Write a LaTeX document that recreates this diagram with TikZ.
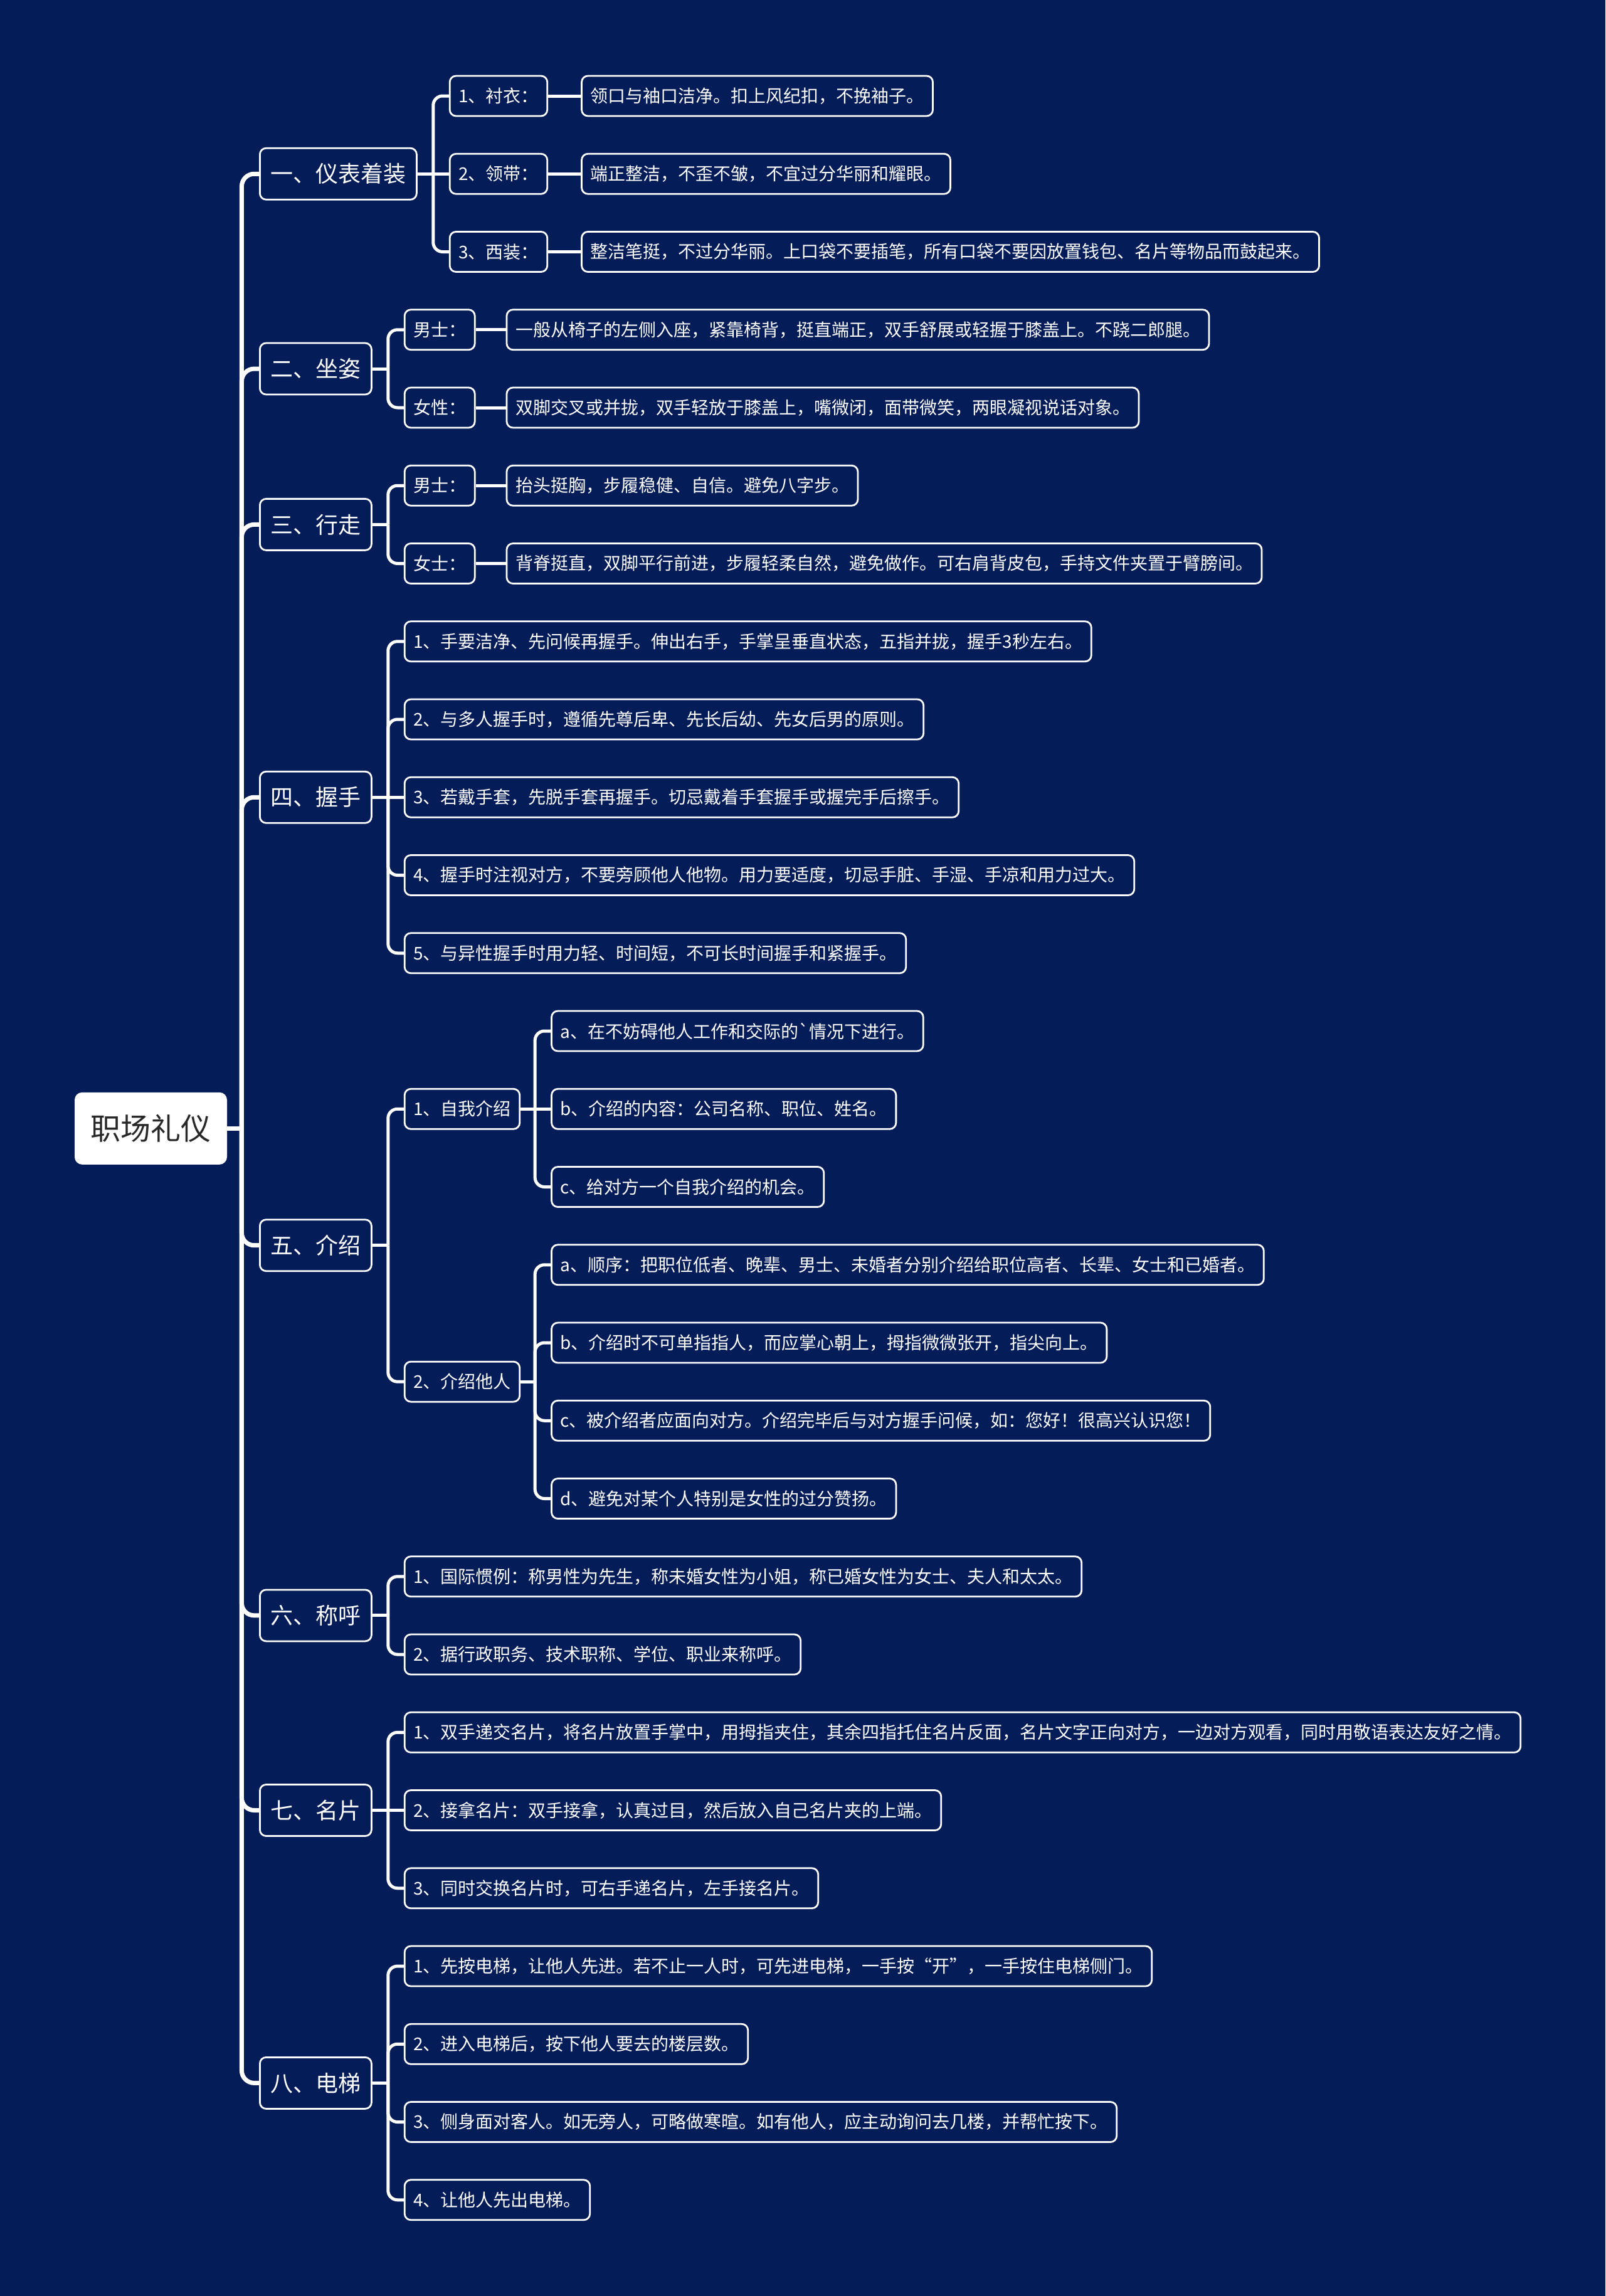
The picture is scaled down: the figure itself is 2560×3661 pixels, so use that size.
\documentclass[tikz,border=0pt]{standalone}
\usepackage{fontspec}
\setmainfont{Noto Sans CJK SC}[Ligatures=TeXOff]
\definecolor{bg}{RGB}{4,28,88}
\definecolor{roottext}{RGB}{40,40,40}
\begin{document}
\begin{tikzpicture}[x=0.5pt,y=-0.5pt,
 box/.style={draw=white, line width=1.4pt, fill=bg, text=white, rounded corners=5pt, inner ysep=0pt, anchor=west},
 lone/.style={box, font=\fontsize{18pt}{20pt}\selectfont, minimum height=41pt, inner xsep=8.5pt},
 ltwo/.style={box, font=\fontsize{14pt}{16pt}\selectfont, minimum height=32pt, inner xsep=7pt},
 rootbox/.style={fill=white, text=roottext, rounded corners=6pt, font=\fontsize{24pt}{26pt}\selectfont, minimum width=121.5pt, minimum height=57.5pt, inner sep=0pt},
 czero/.style={draw=white, line width=3.5pt, rounded corners=10pt},
 cone/.style={draw=white, line width=2.5pt, rounded corners=7.5pt},
]
\fill[bg] (0,0) rectangle (2560,3661);
% row coordinates
\foreach \k in {0,...,27}{\coordinate (r\k) at (0,{153+124.25*\k});}
\coordinate (rs5b) at (0,2203.125);

% root
\node[rootbox] (root) at (240.5,1799.3) {职场礼仪};

% level 1
\node[lone] (s1) at (413,277.25) {一、仪表着装};
\node[lone] (s2) at (413,588) {二、坐姿};
\node[lone] (s3) at (413,836.375) {三、行走};
\node[lone] (s4) at (413,1271.25) {四、握手};
\node[lone] (s5) at (413,1985.69) {五、介绍};
\node[lone] (s6) at (413,2575.875) {六、称呼};
\node[lone] (s7) at (413,2886.5) {七、名片};
\node[lone] (s8) at (413,3321.375) {八、电梯};

% section 1
\node[ltwo, xshift=25pt] (a1) at (s1.east |- r0) {1、衬衣：};
\node[ltwo, xshift=25pt] (a2) at (s1.east |- r1) {2、领带：};
\node[ltwo, xshift=25pt] (a3) at (s1.east |- r2) {3、西装：};
\node[ltwo, xshift=26pt] (a1x) at (a1.east) {领口与袖口洁净。扣上风纪扣，不挽袖子。};
\node[ltwo, xshift=26pt] (a2x) at (a2.east) {端正整洁，不歪不皱，不宜过分华丽和耀眼。};
\node[ltwo, xshift=26pt] (a3x) at (a3.east) {整洁笔挺，不过分华丽。上口袋不要插笔，所有口袋不要因放置钱包、名片等物品而鼓起来。};

% section 2
\node[ltwo, xshift=25pt] (b1) at (s2.east |- r3) {男士：};
\node[ltwo, xshift=25pt] (b2) at (s2.east |- r4) {女性：};
\node[ltwo, xshift=24pt] (b1x) at (b1.east) {一般从椅子的左侧入座，紧靠椅背，挺直端正，双手舒展或轻握于膝盖上。不跷二郎腿。};
\node[ltwo, xshift=24pt] (b2x) at (b2.east) {双脚交叉或并拢，双手轻放于膝盖上，嘴微闭，面带微笑，两眼凝视说话对象。};

% section 3
\node[ltwo, xshift=25pt] (c1) at (s3.east |- r5) {男士：};
\node[ltwo, xshift=25pt] (c2) at (s3.east |- r6) {女士：};
\node[ltwo, xshift=24pt] (c1x) at (c1.east) {抬头挺胸，步履稳健、自信。避免八字步。};
\node[ltwo, xshift=24pt] (c2x) at (c2.east) {背脊挺直，双脚平行前进，步履轻柔自然，避免做作。可右肩背皮包，手持文件夹置于臂膀间。};

% section 4
\node[ltwo, xshift=25pt] (d1) at (s4.east |- r7) {1、手要洁净、先问候再握手。伸出右手，手掌呈垂直状态，五指并拢，握手3秒左右。};
\node[ltwo, xshift=25pt] (d2) at (s4.east |- r8) {2、与多人握手时，遵循先尊后卑、先长后幼、先女后男的原则。};
\node[ltwo, xshift=25pt] (d3) at (s4.east |- r9) {3、若戴手套，先脱手套再握手。切忌戴着手套握手或握完手后擦手。};
\node[ltwo, xshift=25pt] (d4) at (s4.east |- r10) {4、握手时注视对方，不要旁顾他人他物。用力要适度，切忌手脏、手湿、手凉和用力过大。};
\node[ltwo, xshift=25pt] (d5) at (s4.east |- r11) {5、与异性握手时用力轻、时间短，不可长时间握手和紧握手。};

% section 5
\node[ltwo, xshift=25pt] (e1) at (s5.east |- r13) {1、自我介绍};
\node[ltwo, xshift=25pt] (e2) at (s5.east |- rs5b) {2、介绍他人};
\node[ltwo, xshift=24pt] (e1a) at (e1.east |- r12) {a、在不妨碍他人工作和交际的`情况下进行。};
\node[ltwo, xshift=24pt] (e1b) at (e1.east |- r13) {b、介绍的内容：公司名称、职位、姓名。};
\node[ltwo, xshift=24pt] (e1c) at (e1.east |- r14) {c、给对方一个自我介绍的机会。};
\node[ltwo, xshift=24pt] (e2a) at (e2.east |- r15) {a、顺序：把职位低者、晚辈、男士、未婚者分别介绍给职位高者、长辈、女士和已婚者。};
\node[ltwo, xshift=24pt] (e2b) at (e2.east |- r16) {b、介绍时不可单指指人，而应掌心朝上，拇指微微张开，指尖向上。};
\node[ltwo, xshift=24pt] (e2c) at (e2.east |- r17) {c、被介绍者应面向对方。介绍完毕后与对方握手问候，如：您好！很高兴认识您！};
\node[ltwo, xshift=24pt] (e2d) at (e2.east |- r18) {d、避免对某个人特别是女性的过分赞扬。};

% section 6
\node[ltwo, xshift=25pt] (f1) at (s6.east |- r19) {1、国际惯例：称男性为先生，称未婚女性为小姐，称已婚女性为女士、夫人和太太。};
\node[ltwo, xshift=25pt] (f2) at (s6.east |- r20) {2、据行政职务、技术职称、学位、职业来称呼。};

% section 7
\node[ltwo, xshift=25pt] (g1) at (s7.east |- r21) {1、双手递交名片，将名片放置手掌中，用拇指夹住，其余四指托住名片反面，名片文字正向对方，一边对方观看，同时用敬语表达友好之情。};
\node[ltwo, xshift=25pt] (g2) at (s7.east |- r22) {2、接拿名片：双手接拿，认真过目，然后放入自己名片夹的上端。};
\node[ltwo, xshift=25pt] (g3) at (s7.east |- r23) {3、同时交换名片时，可右手递名片，左手接名片。};

% section 8
\node[ltwo, xshift=25pt] (h1) at (s8.east |- r24) {1、先按电梯，让他人先进。若不止一人时，可先进电梯，一手按“开”，一手按住电梯侧门。};
\node[ltwo, xshift=25pt] (h2) at (s8.east |- r25) {2、进入电梯后，按下他人要去的楼层数。};
\node[ltwo, xshift=25pt] (h3) at (s8.east |- r26) {3、侧身面对客人。如无旁人，可略做寒暄。如有他人，应主动询问去几楼，并帮忙按下。};
\node[ltwo, xshift=25pt] (h4) at (s8.east |- r27) {4、让他人先出电梯。};

% ---------- connectors ----------
\coordinate (t0) at ([xshift=11.5pt]root.east);
\draw[czero] (root.east) -- (t0);
\foreach \s in {s1,s2,s3,s4,s5,s6,s7,s8}{\draw[czero] (t0) |- (\s.west);}

% section 1
\coordinate (t1) at ([xshift=12.5pt]s1.east);
\draw[cone] (s1.east) -- (t1);
\draw[cone] (t1) |- (a1.west);
\draw[cone] (t1) -- (a2.west);
\draw[cone] (t1) |- (a3.west);
\draw[cone] (a1.east) -- (a1x.west);
\draw[cone] (a2.east) -- (a2x.west);
\draw[cone] (a3.east) -- (a3x.west);

% section 2
\coordinate (t2) at ([xshift=12.5pt]s2.east);
\draw[cone] (s2.east) -- (t2);
\draw[cone] (t2) |- (b1.west);
\draw[cone] (t2) |- (b2.west);
\draw[cone] (b1.east) -- (b1x.west);
\draw[cone] (b2.east) -- (b2x.west);

% section 3
\coordinate (t3) at ([xshift=12.5pt]s3.east);
\draw[cone] (s3.east) -- (t3);
\draw[cone] (t3) |- (c1.west);
\draw[cone] (t3) |- (c2.west);
\draw[cone] (c1.east) -- (c1x.west);
\draw[cone] (c2.east) -- (c2x.west);

% section 4
\coordinate (t4) at ([xshift=12.5pt]s4.east);
\draw[cone] (s4.east) -- (t4);
\draw[cone] (t4) |- (d1.west);
\draw[cone] (t4) |- (d2.west);
\draw[cone] (t4) -- (d3.west);
\draw[cone] (t4) |- (d4.west);
\draw[cone] (t4) |- (d5.west);

% section 5
\coordinate (t5) at ([xshift=12.5pt]s5.east);
\draw[cone] (s5.east) -- (t5);
\draw[cone] (t5) |- (e1.west);
\draw[cone] (t5) |- (e2.west);
\coordinate (t51) at ([xshift=11.5pt]e1.east);
\draw[cone] (e1.east) -- (t51);
\draw[cone] (t51) |- (e1a.west);
\draw[cone] (t51) -- (e1b.west);
\draw[cone] (t51) |- (e1c.west);
\coordinate (t52) at ([xshift=11.5pt]e2.east);
\draw[cone] (e2.east) -- (t52);
\draw[cone] (t52) |- (e2a.west);
\draw[cone] (t52) |- (e2b.west);
\draw[cone] (t52) |- (e2c.west);
\draw[cone] (t52) |- (e2d.west);

% section 6
\coordinate (t6) at ([xshift=12.5pt]s6.east);
\draw[cone] (s6.east) -- (t6);
\draw[cone] (t6) |- (f1.west);
\draw[cone] (t6) |- (f2.west);

% section 7
\coordinate (t7) at ([xshift=12.5pt]s7.east);
\draw[cone] (s7.east) -- (t7);
\draw[cone] (t7) |- (g1.west);
\draw[cone] (t7) -- (g2.west);
\draw[cone] (t7) |- (g3.west);

% section 8
\coordinate (t8) at ([xshift=12.5pt]s8.east);
\draw[cone] (s8.east) -- (t8);
\draw[cone] (t8) |- (h1.west);
\draw[cone] (t8) |- (h2.west);
\draw[cone] (t8) |- (h3.west);
\draw[cone] (t8) |- (h4.west);
\end{tikzpicture}
\end{document}
